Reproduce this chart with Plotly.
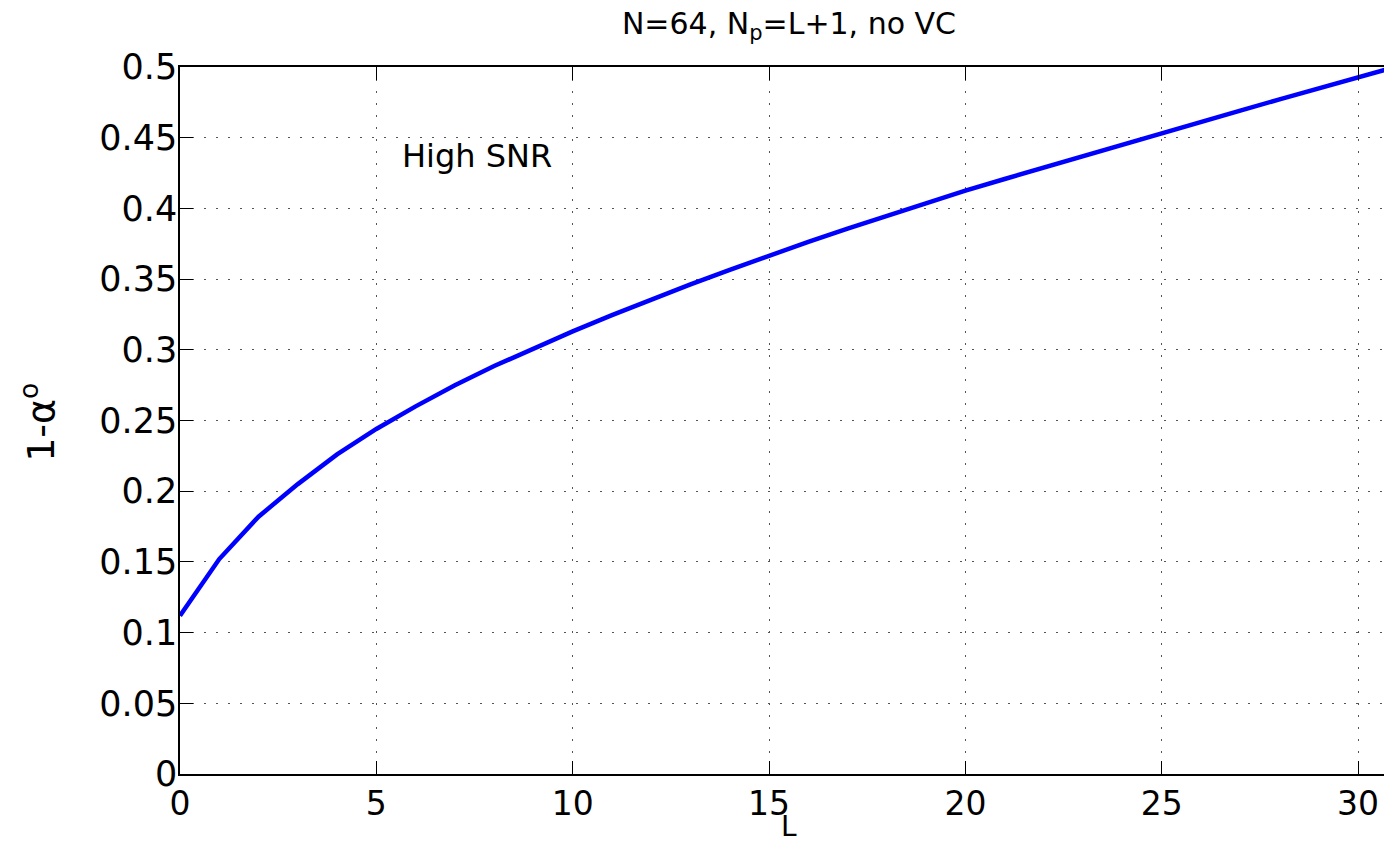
import plotly.graph_objects as go

# Data
L_values = list(range(0, 32))
one_minus_alpha = [0.112, 0.152, 0.182, 0.205, 0.226, 0.244, 0.260, 0.275, 0.2885, 0.301,
                   0.313, 0.3245, 0.3356, 0.3463, 0.3566, 0.3666, 0.3763, 0.3857, 0.3949, 0.4038,
                   0.4125, 0.4208, 0.4290, 0.4371, 0.4452, 0.4532, 0.4612, 0.4692, 0.4771, 0.4850,
                   0.4928, 0.5005]
x_ticks = [0, 5, 10, 15, 20, 25, 30]
y_ticks = [0, 0.05, 0.1, 0.15, 0.2, 0.25, 0.3, 0.35, 0.4, 0.45, 0.5]
y_ticklabels = ["0", "0.05", "0.1", "0.15", "0.2", "0.25", "0.3", "0.35", "0.4", "0.45", "0.5"]

FONT = "DejaVu Sans"

fig = go.Figure()
fig.add_trace(go.Scatter(x=L_values, y=one_minus_alpha, mode="lines",
                         line=dict(color="#0000FF", width=4.5), showlegend=False))

grid_dash = "2px,10px"
fig.update_xaxes(range=[0, 30.66], tickvals=x_ticks, ticktext=[str(v) for v in x_ticks],
                 showline=True, linecolor="black", linewidth=1.5, mirror="ticks",
                 ticks="inside", ticklen=13, tickcolor="black", tickwidth=1,
                 showgrid=True, gridcolor="#555555", gridwidth=1, griddash=grid_dash,
                 zeroline=False, tickfont=dict(family=FONT, size=33, color="black"),
                 ticklabelstandoff=0)
fig.update_yaxes(range=[0, 0.5], tickvals=y_ticks, ticktext=y_ticklabels,
                 showline=True, linecolor="black", linewidth=1.5, mirror=False,
                 ticks="inside", ticklen=13, tickcolor="black", tickwidth=1,
                 showgrid=True, gridcolor="#555555", gridwidth=1, griddash=grid_dash,
                 zeroline=False, tickfont=dict(family=FONT, size=35, color="black"),
                 ticklabelstandoff=-6)

fig.update_layout(
    width=1384, height=845,
    margin=dict(l=180, r=0, t=67, b=71),
    plot_bgcolor="white", paper_bgcolor="white",
    title=dict(text="N=64, N<sub>p</sub>=L+1, no VC", x=789/1384, xref="container", xanchor="center",
               y=1 - 23/845, yref="container", yanchor="middle",
               font=dict(family=FONT, size=30, color="black")),
)

fig.add_annotation(text="High SNR", x=5.6, y=0.437, xref="x", yref="y",
                   xanchor="left", yanchor="middle", showarrow=False,
                   font=dict(family=FONT, size=32, color="black"))
fig.add_annotation(text="1-α<sup>o</sup>", x=-0.118, y=0.498, xref="paper", yref="paper",
                   xanchor="center", yanchor="middle", textangle=-90, showarrow=False,
                   font=dict(family=FONT, size=38, color="black"))
fig.add_annotation(text="L", x=(789 - 180) / 1204, y=-0.0745, xref="paper", yref="paper",
                   xanchor="center", yanchor="middle", showarrow=False,
                   font=dict(family=FONT, size=28, color="black"))

fig.write_html("out.html")
